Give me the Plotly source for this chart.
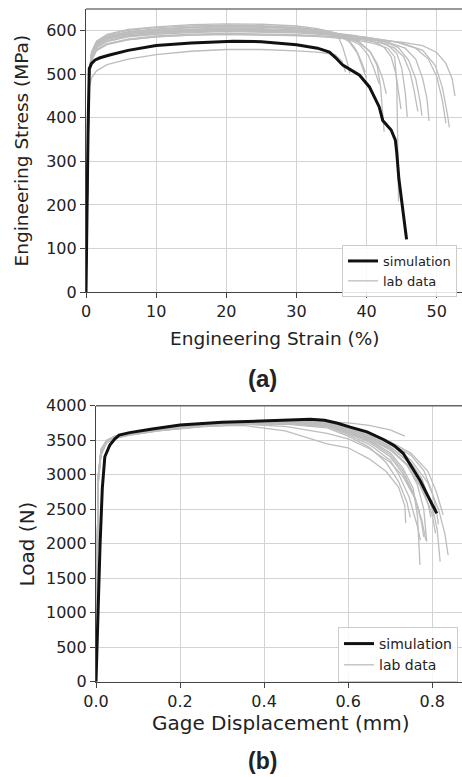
import plotly.graph_objects as go

# ---------------- (a) Engineering stress-strain ----------------
sim_a_strain = [0, 0.1, 0.3, 0.47, 0.8, 1.3, 2.0, 3.5, 6, 10, 15, 21, 25, 30, 33, 34.7,
                35.6, 36.6, 39.0, 40.4, 41.8, 42.3, 43.0, 43.5, 44.1, 44.3, 44.6, 45.0, 45.4, 45.7]
sim_a_stress = [0, 150, 380, 513, 525, 533, 538, 545, 555, 566, 572, 576, 575, 568, 560, 551,
                538, 521, 498, 471, 425, 394, 380, 372, 349, 320, 260, 210, 165, 121]

lab_a_strain = [
    [0, 0.2, 0.45, 0.8, 1.5, 3, 6, 10, 15, 20, 25, 30, 33, 35, 36, 36.6, 37.2, 37.6],
    [0, 0.2, 0.45, 0.8, 1.5, 3, 6, 10, 15, 20, 25, 30, 34, 36, 37.5, 38.5, 39.3, 39.8],
    [0, 0.2, 0.45, 0.8, 1.5, 3, 6, 10, 15, 20, 25, 30, 34, 37, 39, 40.2, 41, 41.8],
    [0, 0.2, 0.45, 0.8, 1.5, 3, 6, 10, 15, 20, 25, 30, 34, 37, 39, 40.5, 41.5, 42, 42.3, 42.5],
    [0, 0.2, 0.45, 0.8, 1.5, 3, 6, 10, 15, 20, 25, 30, 34, 38, 41, 43, 44, 44.3, 44.45, 44.55],
    [0, 0.2, 0.45, 0.8, 1.5, 3, 6, 10, 15, 20, 25, 30, 34, 38, 41, 43, 44.3, 45, 45.5, 45.8],
    [0, 0.2, 0.45, 0.8, 1.5, 3, 6, 10, 15, 20, 25, 30, 35, 39, 42, 44.5, 46, 47, 47.6, 47.9],
    [0, 0.2, 0.45, 0.8, 1.5, 3, 6, 10, 15, 20, 25, 30, 35, 40, 43, 45.5, 47, 48, 48.6, 48.9],
    [0, 0.2, 0.45, 0.8, 1.5, 3, 6, 10, 15, 20, 25, 30, 35, 40, 44, 47, 48.8, 50, 50.8, 51.3],
    [0, 0.2, 0.45, 0.8, 1.5, 3, 6, 10, 15, 20, 25, 30, 35, 40, 45, 48, 49.8, 50.8, 51.5, 51.8],
    [0, 0.2, 0.45, 0.8, 1.5, 3, 6, 10, 15, 20, 25, 30, 35, 40, 45, 48, 50, 51.3, 52.2, 52.6],
    [0, 0.2, 0.45, 0.8, 1.5, 3, 6, 10, 15, 20, 25, 30, 34, 36, 37.5, 38.7, 39.5, 40],
    [0, 0.2, 0.45, 0.8, 1.5, 3, 6, 10, 15, 20, 25, 30, 33, 35.5, 36.5, 37],
    [0, 0.2, 0.45, 0.8, 1.5, 3, 6, 10, 15, 20, 25, 30, 34, 37, 39, 40.5, 41.5, 42.3, 42.8],
    [0, 0.2, 0.45, 0.8, 1.5, 3, 6, 10, 15, 20, 25, 30, 35, 39, 42, 44, 45.3, 46.2, 46.8, 47.3],
    [0, 0.2, 0.45, 0.8, 1.5, 3, 6, 10, 15, 20, 25, 30, 35, 38, 41, 42.5, 43.5, 44.2, 44.6, 44.9],
]
lab_a_stress = [
    [0, 260, 500, 552, 576, 592, 603, 609, 614, 616, 615, 611, 605, 597, 585, 562, 530, 502],
    [0, 250, 495, 545, 568, 584, 596, 603, 608, 611, 610, 607, 600, 592, 578, 556, 528, 505],
    [0, 255, 498, 540, 562, 577, 588, 595, 600, 602, 601, 598, 593, 584, 568, 545, 515, 478],
    [0, 265, 505, 550, 575, 590, 601, 607, 611, 613, 612, 608, 601, 590, 574, 552, 520, 470, 410, 368],
    [0, 245, 490, 532, 554, 568, 579, 586, 590, 592, 591, 589, 586, 580, 571, 560, 540, 480, 330, 208],
    [0, 250, 495, 542, 566, 581, 593, 600, 604, 606, 605, 602, 597, 590, 580, 568, 548, 515, 460, 402],
    [0, 258, 500, 546, 570, 584, 594, 600, 603, 604, 603, 600, 594, 586, 578, 562, 532, 490, 440, 405],
    [0, 248, 492, 538, 561, 575, 586, 592, 596, 598, 597, 595, 590, 582, 574, 560, 535, 490, 445, 393],
    [0, 252, 496, 544, 567, 581, 591, 597, 601, 602, 601, 599, 594, 585, 575, 560, 535, 495, 440, 388],
    [0, 255, 497, 541, 563, 577, 588, 594, 598, 600, 599, 597, 593, 585, 572, 555, 520, 470, 410, 378],
    [0, 250, 494, 536, 557, 570, 580, 586, 590, 592, 591, 589, 586, 581, 574, 566, 550, 525, 490, 450],
    [0, 260, 502, 548, 571, 586, 597, 603, 607, 609, 608, 605, 598, 590, 575, 548, 512, 490],
    [0, 230, 470, 492, 508, 522, 535, 545, 553, 557, 557, 554, 551, 545, 530, 505],
    [0, 262, 503, 549, 573, 588, 598, 604, 608, 610, 609, 605, 597, 586, 572, 552, 525, 490, 455],
    [0, 245, 488, 533, 556, 570, 581, 588, 592, 594, 593, 591, 587, 580, 572, 560, 540, 505, 460, 415],
    [0, 255, 497, 544, 567, 581, 591, 597, 600, 601, 600, 597, 592, 586, 576, 562, 540, 500, 455, 420],
]

# ---------------- (b) Load-displacement ----------------
sim_b_disp = [0, 0.003, 0.0095, 0.015, 0.021, 0.033, 0.045, 0.055, 0.08, 0.13, 0.2, 0.3, 0.4,
              0.47, 0.51, 0.544, 0.575, 0.605, 0.645, 0.684, 0.71, 0.731, 0.75, 0.771, 0.79, 0.811]
sim_b_load = [0, 700, 1957, 2800, 3260, 3430, 3520, 3575, 3610, 3660, 3720, 3760, 3785,
              3800, 3802, 3790, 3745, 3690, 3620, 3510, 3420, 3310, 3130, 2920, 2690, 2440]

lab_b_disp = [
    [0, 0.002, 0.005, 0.012, 0.025, 0.045, 0.08, 0.15, 0.25, 0.35, 0.45, 0.55, 0.6, 0.65, 0.69, 0.72, 0.735, 0.737],
    [0, 0.002, 0.005, 0.012, 0.025, 0.045, 0.08, 0.15, 0.25, 0.35, 0.45, 0.55, 0.6, 0.65, 0.7, 0.735],
    [0, 0.002, 0.005, 0.012, 0.025, 0.045, 0.08, 0.15, 0.25, 0.35, 0.45, 0.55, 0.6, 0.65, 0.7, 0.74, 0.77, 0.8, 0.812, 0.819],
    [0, 0.002, 0.005, 0.012, 0.025, 0.045, 0.08, 0.15, 0.25, 0.35, 0.45, 0.55, 0.6, 0.65, 0.7, 0.73, 0.755, 0.765, 0.771],
    [0, 0.002, 0.005, 0.012, 0.025, 0.045, 0.08, 0.15, 0.25, 0.35, 0.45, 0.55, 0.6, 0.65, 0.7, 0.74, 0.765, 0.78, 0.787],
    [0, 0.002, 0.005, 0.012, 0.025, 0.045, 0.08, 0.15, 0.25, 0.35, 0.45, 0.55, 0.6, 0.65, 0.7, 0.75, 0.79, 0.815, 0.83, 0.838],
    [0, 0.002, 0.005, 0.012, 0.025, 0.045, 0.08, 0.15, 0.25, 0.35, 0.45, 0.55, 0.6, 0.65, 0.7, 0.74, 0.77, 0.79, 0.797],
    [0, 0.002, 0.005, 0.012, 0.025, 0.045, 0.08, 0.15, 0.25, 0.35, 0.45, 0.55, 0.6, 0.65, 0.7, 0.73, 0.755, 0.775, 0.785],
    [0, 0.002, 0.005, 0.012, 0.025, 0.045, 0.08, 0.15, 0.25, 0.35, 0.45, 0.55, 0.6, 0.65, 0.7, 0.75, 0.78, 0.8, 0.81, 0.815],
    [0, 0.002, 0.005, 0.012, 0.025, 0.045, 0.08, 0.15, 0.25, 0.35, 0.45, 0.55, 0.6, 0.65, 0.7, 0.72, 0.745, 0.765, 0.772],
    [0, 0.002, 0.005, 0.012, 0.025, 0.045, 0.08, 0.15, 0.25, 0.35, 0.45, 0.55, 0.6, 0.65, 0.7, 0.75, 0.78, 0.8, 0.808],
    [0, 0.002, 0.005, 0.012, 0.025, 0.045, 0.08, 0.15, 0.25, 0.35, 0.45, 0.55, 0.6, 0.65, 0.7, 0.73, 0.755, 0.77],
    [0, 0.002, 0.005, 0.012, 0.025, 0.045, 0.08, 0.15, 0.25, 0.35, 0.45, 0.55, 0.6, 0.65, 0.7, 0.75, 0.79, 0.81, 0.82, 0.826],
    [0, 0.002, 0.005, 0.012, 0.025, 0.045, 0.08, 0.15, 0.25, 0.35, 0.45, 0.55, 0.6, 0.65, 0.69, 0.72, 0.74, 0.748],
    [0, 0.002, 0.005, 0.012, 0.025, 0.045, 0.08, 0.15, 0.25, 0.35, 0.45, 0.55, 0.6, 0.65, 0.7, 0.75, 0.775, 0.79, 0.8, 0.803],
    [0, 0.002, 0.005, 0.012, 0.025, 0.045, 0.08, 0.15, 0.25, 0.35, 0.45, 0.55, 0.6, 0.65, 0.7, 0.73, 0.76, 0.775, 0.78],
]
lab_b_load = [
    [0, 1450, 2850, 3280, 3460, 3540, 3580, 3640, 3700, 3715, 3635, 3445, 3390, 3230, 3050, 2820, 2550, 2300],
    [0, 1550, 2950, 3320, 3490, 3560, 3600, 3660, 3720, 3760, 3775, 3765, 3750, 3715, 3650, 3560],
    [0, 1400, 2950, 3350, 3480, 3540, 3590, 3655, 3715, 3750, 3760, 3730, 3660, 3570, 3410, 3200, 2920, 2550, 2200, 1740],
    [0, 1500, 2900, 3330, 3470, 3530, 3580, 3645, 3705, 3745, 3755, 3715, 3620, 3500, 3320, 3100, 2800, 2400, 1690],
    [0, 1420, 2930, 3340, 3485, 3545, 3595, 3660, 3720, 3755, 3762, 3725, 3640, 3540, 3380, 3150, 2850, 2500, 2030],
    [0, 1480, 2960, 3360, 3490, 3550, 3600, 3665, 3725, 3760, 3770, 3740, 3665, 3590, 3440, 3210, 2880, 2500, 2150, 1835],
    [0, 1460, 2920, 3330, 3475, 3535, 3585, 3650, 3710, 3748, 3756, 3720, 3630, 3520, 3360, 3140, 2850, 2580, 2380],
    [0, 1440, 2900, 3320, 3470, 3530, 3578, 3642, 3702, 3740, 3748, 3708, 3600, 3470, 3260, 3020, 2720, 2350, 2050],
    [0, 1510, 2970, 3365, 3495, 3555, 3602, 3668, 3728, 3762, 3772, 3745, 3675, 3600, 3460, 3280, 3060, 2750, 2480, 2280],
    [0, 1430, 2880, 3310, 3465, 3528, 3575, 3640, 3698, 3735, 3740, 3695, 3580, 3440, 3210, 3010, 2680, 2250, 2050],
    [0, 1490, 2940, 3345, 3482, 3542, 3592, 3657, 3717, 3752, 3760, 3728, 3645, 3530, 3370, 3090, 2760, 2420, 2150],
    [0, 1470, 2910, 3335, 3478, 3538, 3588, 3652, 3712, 3747, 3754, 3718, 3610, 3490, 3290, 3060, 2740, 2460],
    [0, 1520, 2980, 3370, 3498, 3558, 3605, 3670, 3730, 3765, 3776, 3750, 3690, 3610, 3480, 3310, 3050, 2750, 2560, 2420],
    [0, 1410, 2870, 3300, 3460, 3525, 3572, 3636, 3695, 3730, 3732, 3680, 3560, 3400, 3180, 2900, 2600, 2380],
    [0, 1495, 2945, 3350, 3486, 3546, 3596, 3662, 3722, 3757, 3766, 3735, 3655, 3560, 3400, 3170, 2950, 2700, 2500, 2400],
    [0, 1460, 2900, 3325, 3472, 3534, 3584, 3648, 3708, 3730, 3700, 3600, 3520, 3380, 3180, 2980, 2650, 2300, 2100],
]

LAB_COLOR = "#bdbdbd"
SIM_COLOR = "#111111"
FONT = "DejaVu Sans"
TXT = "#222222"

fig = go.Figure()

for i, (xs, ys) in enumerate(zip(lab_a_strain, lab_a_stress)):
    fig.add_trace(go.Scatter(x=xs, y=ys, mode="lines", line=dict(color=LAB_COLOR, width=1.3),
                             name="lab data", legendgroup="laba", showlegend=(i == 0),
                             legendrank=2, xaxis="x", yaxis="y", legend="legend"))
fig.add_trace(go.Scatter(x=sim_a_strain, y=sim_a_stress, mode="lines",
                         line=dict(color=SIM_COLOR, width=3), name="simulation",
                         legendrank=1, xaxis="x", yaxis="y", legend="legend"))

for i, (xs, ys) in enumerate(zip(lab_b_disp, lab_b_load)):
    fig.add_trace(go.Scatter(x=xs, y=ys, mode="lines", line=dict(color=LAB_COLOR, width=1.3),
                             name="lab data", legendgroup="labb", showlegend=(i == 0),
                             legendrank=2, xaxis="x2", yaxis="y2", legend="legend2"))
fig.add_trace(go.Scatter(x=sim_b_disp, y=sim_b_load, mode="lines",
                         line=dict(color=SIM_COLOR, width=3), name="simulation",
                         legendrank=1, xaxis="x2", yaxis="y2", legend="legend2"))

H = 777.0
W = 462.0
ax_common = dict(showgrid=True, gridcolor="#d3d3d3", gridwidth=1, showline=True,
                 linecolor="#444444", linewidth=1.2, ticks="outside", ticklen=5,
                 tickcolor="#444444", zeroline=False, automargin=False,
                 tickfont=dict(family=FONT, size=16, color=TXT))

fig.update_layout(
    template="none",
    width=462, height=777, autosize=False,
    margin=dict(l=0, r=0, t=0, b=0, pad=0, autoexpand=False),
    paper_bgcolor="white", plot_bgcolor="white",
    font=dict(family=FONT, color=TXT),
    xaxis=dict(domain=[86 / W, 1.0], range=[0, 53.6], tickvals=[0, 10, 20, 30, 40, 50],
               anchor="y", **ax_common),
    yaxis=dict(domain=[(H - 292) / H, (H - 9) / H], range=[0, 650],
               tickvals=[0, 100, 200, 300, 400, 500, 600], anchor="x", **ax_common),
    xaxis2=dict(domain=[96 / W, 1.0], range=[0, 0.871],
                tickvals=[0, 0.2, 0.4, 0.6, 0.8], ticktext=["0.0", "0.2", "0.4", "0.6", "0.8"],
                anchor="y2", **ax_common),
    yaxis2=dict(domain=[(H - 681.7) / H, (H - 405.7) / H], range=[0, 4000],
                tickvals=[0, 500, 1000, 1500, 2000, 2500, 3000, 3500, 4000], anchor="x2", **ax_common),
    legend=dict(x=457 / W, y=(H - 245) / H, xanchor="right", yanchor="top",
                bgcolor="rgba(255,255,255,0.85)", bordercolor="#cccccc", borderwidth=1,
                font=dict(family=FONT, size=13, color=TXT), tracegroupgap=0, itemwidth=30),
    legend2=dict(x=458 / W, y=(H - 627) / H, xanchor="right", yanchor="top",
                 bgcolor="rgba(255,255,255,0.85)", bordercolor="#cccccc", borderwidth=1,
                 font=dict(family=FONT, size=14, color=TXT), tracegroupgap=0, itemwidth=30),
    showlegend=True,
)

# top spines
fig.add_shape(type="line", xref="paper", yref="paper", x0=86 / W, x1=1.0,
              y0=(H - 9) / H, y1=(H - 9) / H, line=dict(color="#777777", width=1.5))
fig.add_shape(type="line", xref="paper", yref="paper", x0=96 / W, x1=1.0,
              y0=(H - 405.7) / H, y1=(H - 405.7) / H, line=dict(color="#666666", width=1.5))

ann = [
    dict(text="Engineering Stress (MPa)", x=21 / W, y=(H - 150.5) / H, textangle=-90, size=18.5),
    dict(text="Engineering Strain (%)", x=275 / W, y=(H - 338) / H, textangle=0, size=18.5),
    dict(text="Load (N)", x=26.5 / W, y=(H - 544) / H, textangle=-90, size=20),
    dict(text="Gage Displacement (mm)", x=281 / W, y=(H - 722.7) / H, textangle=0, size=20),
]
for a in ann:
    fig.add_annotation(text=a["text"], x=a["x"], y=a["y"], xref="paper", yref="paper",
                       xanchor="center", yanchor="middle", textangle=a["textangle"],
                       showarrow=False, font=dict(family=FONT, size=a["size"], color=TXT))

fig.add_annotation(text="<b>(a)</b>", x=262.5 / W, y=(H - 379) / H, xref="paper", yref="paper",
                   xanchor="center", yanchor="middle", showarrow=False,
                   font=dict(family="Liberation Sans", size=24, color=TXT))
fig.add_annotation(text="<b>(b)</b>", x=262 / W, y=1.0 / H, xref="paper", yref="paper",
                   xanchor="center", yanchor="bottom", showarrow=False,
                   font=dict(family="Liberation Sans", size=23, color=TXT))

fig.write_html("out.html", config={"displayModeBar": False},
               post_script="document.body.style.margin='0';document.body.style.overflow='hidden';")
